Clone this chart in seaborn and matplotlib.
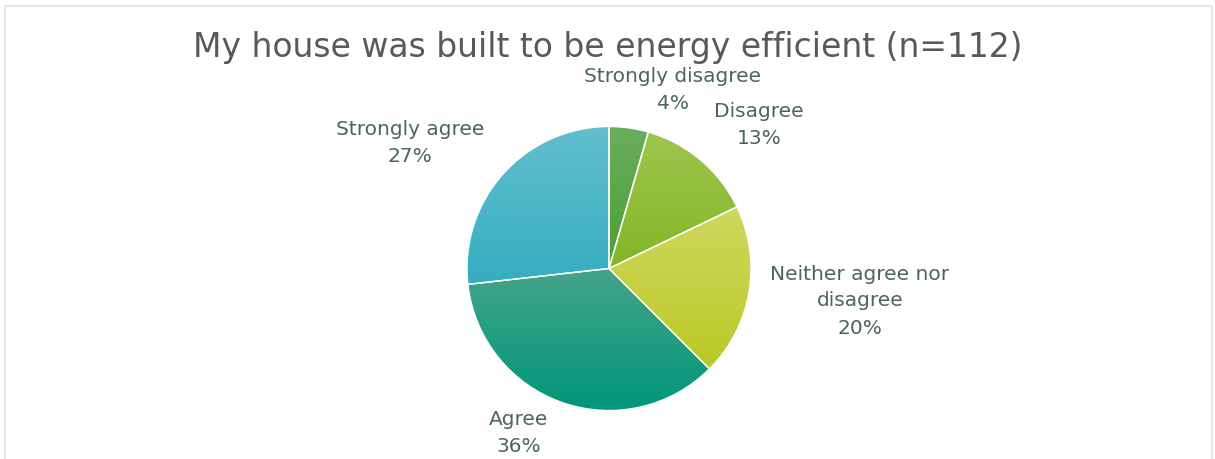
import numpy as np
import matplotlib
matplotlib.use("Agg")
import matplotlib.pyplot as plt
import seaborn as sns
from matplotlib.patches import Rectangle
from matplotlib.colors import to_rgb

categories = ["Strongly disagree", "Disagree", "Neither agree nor\ndisagree", "Agree", "Strongly agree"]
counts = [5, 15, 22, 40, 30]  # n = 112
top_colors = ["#6aae5e", "#a0c64e", "#cfd95e", "#45a488", "#62bfcd"]
bottom_colors = ["#4c9f30", "#82b626", "#b9c925", "#00977a", "#36adc0"]
title = "My house was built to be energy efficient (n=112)"

sns.set_theme(style="white")
plt.rcParams["font.family"] = ["DejaVu Sans"]

W, H = 1215, 459
fig = plt.figure(figsize=(W / 100, H / 100), dpi=100)
ax = fig.add_axes([0, 0, 1, 1])
cx, cy, R = 609, 268.5, 142.0

wedges, _ = ax.pie(counts, startangle=90, counterclock=False, radius=1,
                   colors=["none"] * len(counts),
                   wedgeprops=dict(edgecolor="white", linewidth=1.0, zorder=3))
ax.axis("off")

for w, tc, bc in zip(wedges, top_colors, bottom_colors):
    ext = w.get_path().get_extents()
    t = np.array(to_rgb(tc)); b = np.array(to_rgb(bc))
    n = 64
    f = np.linspace(0, 1, n)[:, None]
    grad = (t[None, :] * (1 - f) + b[None, :] * f)[:, None, :]
    im = ax.imshow(grad, extent=[ext.x0, ext.x1, ext.y0, ext.y1], origin="upper",
                   aspect="auto", zorder=2, interpolation="bilinear")
    im.set_clip_path(w)

ax.set_aspect("auto")
ax.set_xlim(-cx / R, (W - cx) / R)
ax.set_ylim(-(H - cy) / R, cy / R)

total = sum(counts)
pct = [f"{round(100 * c / total)}%" for c in counts]
label_px = [(673, 90), (759, 125), (860, 301), (519, 433), (410, 143)]
lab_color = "#4a6657"
line_h = 27
for (px, py), c, p in zip(label_px, categories, pct):
    lines = c.split("\n") + [p]
    nl = len(lines)
    for i, s in enumerate(lines):
        y = py + (i - (nl - 1) / 2) * line_h
        ax.text((px - cx) / R, (cy - y) / R, s, ha="center", va="center",
                fontsize=14.5, color=lab_color, zorder=5)

fig.text(608 / W, 1 - 48 / H, title, ha="center", va="center", fontsize=23.8, color="#595959")

fig.patches.append(Rectangle((4.5 / W, -0.05), (1212 - 4.5) / W, 1.05 - 5.5 / H,
                             transform=fig.transFigure, fill=False,
                             edgecolor="#dde2e2", linewidth=1.2))

fig.savefig("out.png", dpi=100)
